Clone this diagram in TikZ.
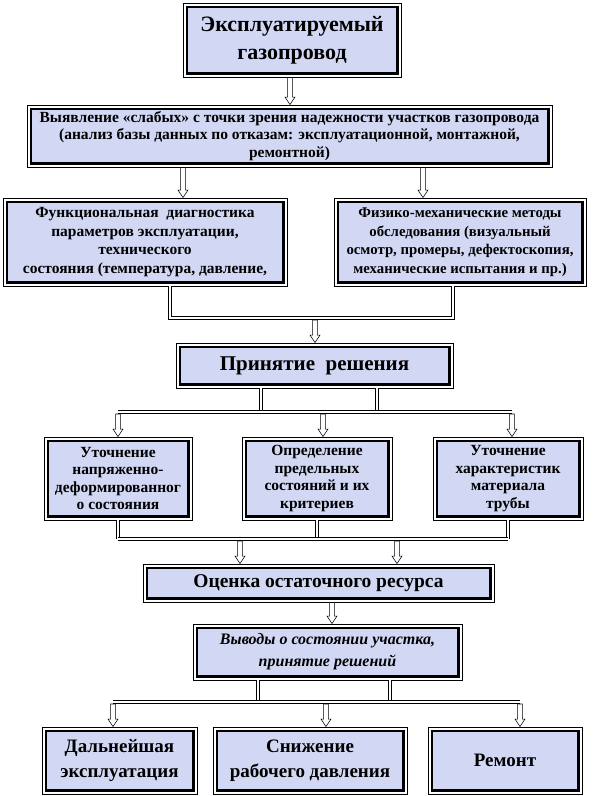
\documentclass[tikz,border=0pt]{standalone}
\usepackage{fontspec}
\setmainfont{Liberation Serif}
\usetikzlibrary{calc}
\definecolor{boxfill}{RGB}{210,216,244}
\begin{document}
\begin{tikzpicture}[x=1pt,y=-1pt,
  box/.style={draw, line width=0.9pt, fill=white, inner sep=0pt, align=center,
    path picture={\draw[line width=2.2pt, fill=boxfill]
      ([shift={(3.6pt,-3.6pt)}]path picture bounding box.north west) rectangle
      ([shift={(-3.6pt,3.6pt)}]path picture bounding box.south east);}},
  dbl/.style={draw, line width=1pt, double=white, double distance=2pt},
  hollow/.style={draw=black, line width=0.6pt, fill=white,
    to path={let \p1=(\tikztostart), \p2=(\tikztotarget) in
      (\x1-2.4pt,\y1) -- (\x1-2.4pt,\y2+7.5pt) -- (\x1-5pt,\y2+7.5pt) -- (\x1,\y2)
      -- (\x1+5pt,\y2+7.5pt) -- (\x1+2.4pt,\y2+7.5pt) -- (\x1+2.4pt,\y1) -- cycle}},
  big/.style={font=\fontsize{22}{28}\selectfont\bfseries},
  mid/.style={font=\fontsize{15.5}{17.5}\selectfont\bfseries},
  sml/.style={font=\fontsize{15.5}{18.5}\selectfont\bfseries},
  row/.style={font=\fontsize{15.5}{17.5}\selectfont\bfseries},
  bot/.style={font=\fontsize{19}{25}\selectfont\bfseries}]
\useasboundingbox (0,0) rectangle (594,796);
\fill[white] (0,0) rectangle (594,796);

% boxes
\node[box, big, minimum width=218, minimum height=74] (b1) at (292,40) {Эксплуатируемый\\газопровод};
\node[box, mid, minimum width=525, minimum height=62] (b2) at (289.5,136)
  {Выявление «слабых» с точки зрения надежности участков газопровода\\(анализ базы данных по отказам: эксплуатационной, монтажной,\\ремонтной)};
\node[box, sml, minimum width=284, minimum height=88] (b3) at (145,242)
  {Функциональная\ \ диагностика\\параметров эксплуатации,\\технического\\состояния (температура, давление,};
\node[box, font=\fontsize{14.8}{18.5}\selectfont\bfseries, minimum width=252, minimum height=88] (b4) at (460,242)
  {Физико-механические методы\\обследования (визуальный\\осмотр, промеры, дефектоскопия,\\механические испытания и пр.)};
\node[box, font=\fontsize{21}{26}\selectfont\bfseries, minimum width=277, minimum height=45] (b5) at (314.5,365.5) {Принятие\ \ решения};
\node[box, row, minimum width=148, minimum height=83] (b6a) at (118,478.5)
  {Уточнение\\напряженно-\\деформированног\\о состояния};
\node[box, row, minimum width=150, minimum height=83] (b6b) at (317,478.5)
  {Определение\\предельных\\состояний и их\\критериев};
\node[box, row, minimum width=150, minimum height=83] (b6c) at (508,478.5)
  {Уточнение\\характеристик\\материала\\трубы};
\node[box, font=\fontsize{19.5}{24}\selectfont\bfseries, minimum width=351, minimum height=38] (b7) at (318.5,583)
  {Оценка остаточного ресурса};
\node[box, font=\fontsize{16}{22}\selectfont\bfseries\itshape, minimum width=269, minimum height=56] (b8) at (327.5,652)
  {Выводы о состоянии участка,\\принятие решений};
\node[box, bot, minimum width=155, minimum height=67] (b9a) at (119.5,760.5) {Дальнейшая\\эксплуатация};
\node[box, bot, minimum width=194, minimum height=67] (b9b) at (310,760.5) {Снижение\\рабочего давления};
\node[box, bot, minimum width=154, minimum height=67] (b9c) at (505,760.5) {Ремонт};

% b1 -> b2
\coordinate (p1) at (290,0);
\draw[hollow] (b1.south -| p1) to (b2.north -| p1);
% b2 -> b3, b4
\coordinate (p2) at (183,0);
\coordinate (p3) at (423,0);
\draw[hollow] (b2.south -| p2) to (b3.north -| p2);
\draw[hollow] (b2.south -| p3) to (b4.north -| p3);
% b3, b4 -> b5
\coordinate (j1) at (170,318);
\coordinate (j2) at (453,318);
\coordinate (j3) at (315,320);
\draw[dbl] (b3.south -| j1) -- (j1) -- (j2) -- (b4.south -| j2);
\draw[hollow] (j3) to (b5.north -| j3);
% b5 -> row
\coordinate (k1) at (261,412);
\coordinate (k2) at (377,412);
\coordinate (kL) at (118,412);
\coordinate (kR) at (512,412);
\draw[dbl] (b5.south -| k1) -- (k1);
\draw[dbl] (b5.south -| k2) -- (k2);
\draw[dbl] (kL) -- (kR);
\coordinate (q1) at (118,414);
\coordinate (q2) at (323,414);
\coordinate (q3) at (512,414);
\draw[hollow] (q1) to (b6a.north -| q1);
\draw[hollow] (q2) to (b6b.north -| q2);
\draw[hollow] (q3) to (b6c.north -| q3);
% row -> b7
\coordinate (m1) at (118,539);
\coordinate (m2) at (317,539);
\coordinate (m3) at (508,539);
\draw[dbl] (b6a.south) -- (m1);
\draw[dbl] (b6b.south) -- (m2);
\draw[dbl] (b6c.south) -- (m3);
\draw[dbl] (m1) -- (m3);
\coordinate (n1) at (240,541);
\coordinate (n2) at (397,541);
\draw[hollow] (n1) to (b7.north -| n1);
\draw[hollow] (n2) to (b7.north -| n2);
% b7 -> b8
\coordinate (r1) at (332,0);
\draw[hollow] (b7.south -| r1) to (b8.north -| r1);
% b8 -> bottom
\coordinate (s1) at (258,702);
\coordinate (s2) at (390,702);
\coordinate (sL) at (113,702);
\coordinate (sR) at (520,702);
\draw[dbl] (b8.south -| s1) -- (s1);
\draw[dbl] (b8.south -| s2) -- (s2);
\draw[dbl] (sL) -- (sR);
\coordinate (t1) at (113,704);
\coordinate (t2) at (326,704);
\coordinate (t3) at (520,704);
\draw[hollow] (t1) to (b9a.north -| t1);
\draw[hollow] (t2) to (b9b.north -| t2);
\draw[hollow] (t3) to (b9c.north -| t3);
\end{tikzpicture}
\end{document}
